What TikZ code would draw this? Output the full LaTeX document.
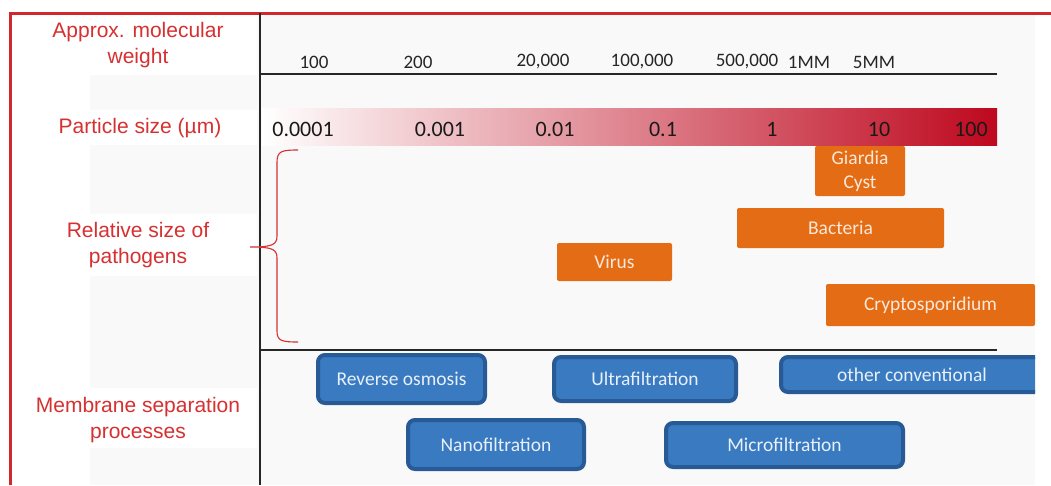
\documentclass[tikz,border=0pt]{standalone}
\usepackage{fontspec}
\newfontfamily\chartfont{Carlito}
\newfontfamily\labfont{Liberation Sans}
\definecolor{lblred}{RGB}{214,48,49}
\definecolor{framered}{RGB}{208,40,44}
\definecolor{orng}{RGB}{228,108,20}
\definecolor{orngtxt}{RGB}{252,232,218}
\definecolor{bfill}{RGB}{58,122,192}
\definecolor{bdraw}{RGB}{40,90,150}
\definecolor{btxt}{RGB}{232,240,250}
\definecolor{bgray}{RGB}{249,249,249}
\definecolor{barmid}{RGB}{226,112,120}
\definecolor{barend}{RGB}{190,8,30}
\begin{document}
\begin{tikzpicture}[x=1pt,y=-1pt,
  lbl/.style={text=lblred, font=\labfont\fontsize{21}{26}\selectfont, align=center},
  mw/.style={font=\chartfont\fontsize{19}{21}\selectfont, text=black!85, inner sep=0pt},
  ps/.style={font=\chartfont\fontsize{22}{24}\selectfont, text=black!90, inner sep=0pt},
  pathogen/.style={fill=orng, text=orngtxt, rounded corners=2pt, font=\chartfont\fontsize{19.5}{24}\selectfont, inner sep=0pt, align=center},
  memb/.style={fill=bfill, draw=bdraw, line width=4pt, rounded corners=7pt, text=btxt, font=\chartfont\fontsize{19.5}{22}\selectfont, inner sep=0pt},
  axisline/.style={line width=1.6pt, black!85},
]
\useasboundingbox (0,0) rectangle (1051,485);
\fill[white] (0,0) rectangle (1051,485);
% backgrounds
\fill[bgray] (10,13) rectangle (1035,485);
\fill[white] (10,13) rectangle (90,485);
\fill[white] (20,15) rectangle (257,75);
\fill[white] (20,110) rectangle (257,145);
\fill[white] (20,214) rectangle (257,276);
\fill[white] (20,388) rectangle (257,448);
% frame and grid lines
\draw[framered, line width=3pt] (10,485) -- (10,13) -- (1051,13);
\draw[axisline] (260,13) -- (260,485);
\draw[axisline] (260,74) -- (997,74);
\draw[axisline] (260,350) -- (997,350);
% left labels
\node[lbl] (lmw) at (138,45) {Approx. molecular\\weight};
\node[lbl] (lps) at (140,128) {Particle size (µm)};
\node[lbl] (lrs) at (138,245) {Relative size of\\pathogens};
\node[lbl] (lmb) at (138,420) {Membrane separation\\processes};
% molecular weights
\node[mw] (m1) at (314,62) {100};
\node[mw] (m2) at (418,62) {200};
\node[mw] (m3) at (543,62) {20,000};
\node[mw] (m4) at (642,62) {100,000};
\node[mw] (m5) at (747,62) {500,000};
\node[mw] (m6) at (809,62) {1MM};
\node[mw] (m7) at (874,62) {5MM};
% gradient bar
\shade[left color=white, middle color=barmid, right color=barend] (262,108) rectangle (997,145);
\node[ps] (p1) at (303,129) {0.0001};
\node[ps] (p2) at (440,129) {0.001};
\node[ps] (p3) at (555,129) {0.01};
\node[ps] (p4) at (663,129) {0.1};
\node[ps] (p5) at (772,129) {1};
\node[ps] (p6) at (879,129) {10};
\node[ps] (p7) at (971,129) {100};
% brace
\draw[lblred, line width=1.1pt] (298,150) .. controls (282,150) and (277,151) .. (277,162)
  -- (277,236) .. controls (277,245) and (272,247) .. (250,247)
  .. controls (272,247) and (277,249) .. (277,258)
  -- (277,331) .. controls (277,341) and (282,342) .. (298,342);
% pathogens
\node[pathogen, minimum width=90pt, minimum height=50pt] (giardia) at (860,171) {Giardia\\Cyst};
\node[pathogen, minimum width=207pt, minimum height=40pt] (bact) at (840.5,228) {Bacteria};
\node[pathogen, minimum width=115pt, minimum height=38pt] (virus) at (614.5,262) {Virus};
\node[pathogen, minimum width=209pt, minimum height=42pt] (crypto) at (930.5,305) {Cryptosporidium};
% membranes
\node[memb, minimum width=167pt, minimum height=48pt] (ro) at (401.5,379) {Reverse osmosis};
\node[memb, minimum width=182pt, minimum height=44pt] (uf) at (645,379) {Ultrafiltration};
\begin{scope}
  \clip (0,0) rectangle (1035,485);
  \node[memb, minimum width=262pt, minimum height=35pt] (oc) at (912,374.5) {other conventional};
\end{scope}
\node[memb, minimum width=176pt, minimum height=49pt] (nf) at (496,444.5) {Nanofiltration};
\node[memb, minimum width=237pt, minimum height=44pt] (mf) at (784.5,445) {Microfiltration};
\end{tikzpicture}
\end{document}
